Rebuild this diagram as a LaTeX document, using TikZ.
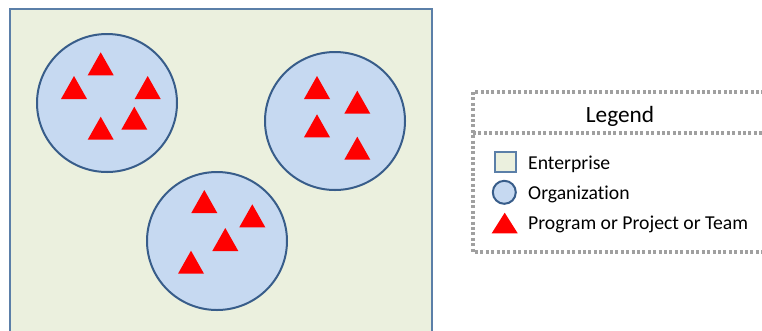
\documentclass[tikz,border=0pt]{standalone}
\usepackage{fontspec}
\setmainfont[Ligatures={NoCommon}]{Carlito}
\usetikzlibrary{positioning}
\definecolor{entfill}{HTML}{EBF0DE}
\definecolor{entline}{HTML}{5B7FA8}
\definecolor{orgfill}{HTML}{C6D9F1}
\definecolor{orgline}{HTML}{385D8A}
\definecolor{legline}{HTML}{A0A0A0}
\tikzset{
  org/.style={draw=orgline,fill=orgfill,line width=2pt},
  legtext/.style={anchor=base west,inner sep=0pt,font=\fontsize{19.7}{23}\selectfont},
}

\begin{document}
\begin{tikzpicture}[x=1pt,y=-1pt]
		\useasboundingbox (0,0) rectangle (762,330);
		\clip (0,0) rectangle (762,330);
		% enterprise
		\draw[entline,fill=entfill,line width=1.2pt] (10,9) rectangle (432,345);
		% organizations
		\draw[org] (107,103) ellipse (70 and 69);
		\draw[org] (335,121) ellipse (70 and 69);
		\draw[org] (217,241) ellipse (70 and 69);
		% teams
		\foreach \x/\y in {100.7/52.3,74/76,147.7/76,134.3/106.7,100.7/116.7,
			317/76,357.3/90.7,317/114.3,357.3/136.7,
			204.3/190,252.3/204.3,225.3/228,191/250.7}
			\fill[red] (\x,\y) -- ++(-13,23) -- ++(26,0) -- cycle;
		% legend
		\draw[legline,line width=3.2pt,dash pattern=on 3pt off 2.4pt] (473,92) rectangle (780,252);
		\draw[legline,line width=3.2pt,dash pattern=on 3pt off 2.4pt] (473,133) -- (780,133);
		\node[anchor=base,inner sep=0pt,font=\fontsize{23.3}{27}\selectfont] (legend) at (620,122.3) {Legend};
		\draw[entline,fill=entfill,line width=1.2pt] (495,152) rectangle (516,172);
		\node[legtext] (enterprise) at (528,169.3) {Enterprise};
		\draw[org] (504.3,192.3) circle (11.5);
		\node[legtext] (organization) at (528,199.5) {Organization};
		\fill[red] (504.7,212.7) -- ++(-13,20.6) -- ++(26,0) -- cycle;
		\node[legtext] (team) at (528,229) {Program or Project or Team};
	\end{tikzpicture}
\end{document}
